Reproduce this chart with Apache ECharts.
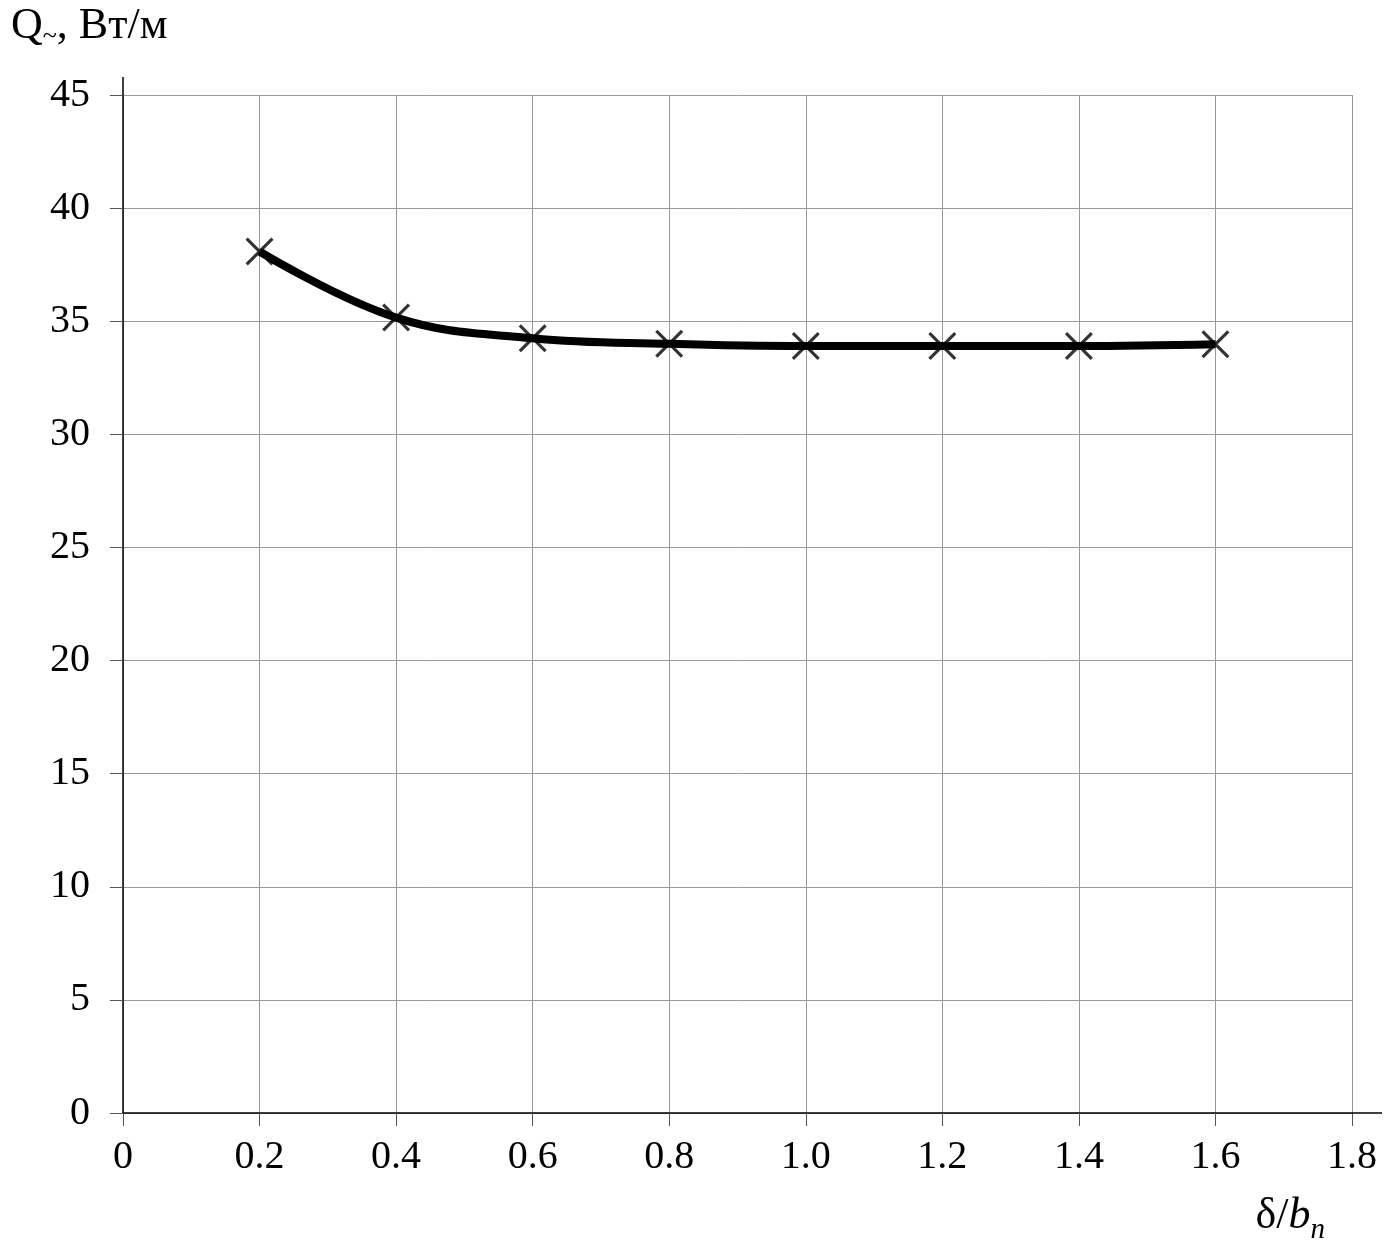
<!DOCTYPE html>
<html><head><meta charset="utf-8">
<script src="https://cdn.jsdelivr.net/npm/echarts@6/dist/echarts.min.js"></script>
<style>html,body{margin:0;padding:0;background:#fff}#c{width:1386px;height:1256px}</style>
</head><body><div id="c"></div>
<script>
const xValues = [0.2, 0.4, 0.6, 0.8, 1.0, 1.2, 1.4, 1.6];
const qValues = [38.08, 35.16, 34.25, 34.0, 33.9, 33.9, 33.9, 33.98];

const data = xValues.map((x, i) => [x, qValues[i]]);
const FONT = 'Liberation Serif';
const chart = echarts.init(document.getElementById('c'), null, {renderer: 'canvas'});
const xShape = 'path://M0,8L8,0L50,42L92,0L100,8L58,50L100,92L92,100L50,58L8,100L0,92L42,50Z';

chart.setOption({
  backgroundColor: '#fff',
  animation: false,
  grid: {left: 123, right: 34, top: 95, bottom: 143, containLabel: false, outerBoundsMode: 'none'},
  xAxis: {
    type: 'value', min: 0, max: 1.8, interval: 0.2,
    name: '{d|δ/}{b|b}{n|n}', nameLocation: 'end', nameGap: 0,
    nameTextStyle: {
      align: 'right', verticalAlign: 'top', padding: [75, 27, 0, 0],
      rich: {
        d: {fontFamily: FONT, fontSize: 44, fontWeight: 'normal', color: '#000'},
        b: {fontFamily: FONT, fontSize: 44, fontStyle: 'italic', fontWeight: 'normal', color: '#000'},
        n: {fontFamily: FONT, fontSize: 29, fontStyle: 'italic', fontWeight: 'normal', color: '#000', padding: [28, 0, 0, 0]}
      }
    },
    axisLine: {show: true, lineStyle: {color: '#000', width: 1.5}},
    axisTick: {show: true, inside: false, length: 13, lineStyle: {color: '#555', width: 1}},
    axisLabel: {margin: 24, fontFamily: FONT, fontSize: 40, color: '#000',
      formatter: v => (v === 0 ? '0' : v.toFixed(1))},
    splitLine: {show: true, lineStyle: {color: '#999', width: 1}}
  },
  yAxis: {
    type: 'value', min: 0, max: 45, interval: 5,
    name: '{q|Q}{s|~}{t|, Вт/м}', nameLocation: 'end', nameGap: 0,
    nameTextStyle: {
      align: 'left', verticalAlign: 'bottom', padding: [0, 0, 46, -112],
      rich: {
        q: {fontFamily: FONT, fontSize: 44, fontWeight: 'normal', color: '#000'},
        s: {fontFamily: FONT, fontSize: 26, fontWeight: 'normal', color: '#000', padding: [20, 0, 0, 0]},
        t: {fontFamily: FONT, fontSize: 44, fontWeight: 'normal', color: '#000'}
      }
    },
    axisLine: {show: true, lineStyle: {color: '#000', width: 1.5}},
    axisTick: {show: true, inside: false, length: 13, lineStyle: {color: '#555', width: 1}},
    axisLabel: {margin: 33, fontFamily: FONT, fontSize: 40, color: '#000'},
    splitLine: {show: true, lineStyle: {color: '#999', width: 1}}
  },
  series: [{
    type: 'line', data: data, smooth: 0.4,
    lineStyle: {color: '#000', width: 8},
    symbol: 'none', z: 3
  }, {
    type: 'scatter', data: data, symbol: xShape, symbolSize: 28,
    itemStyle: {color: '#000'}, z: 4
  }]
});

// extend axis lines beyond the plot (decoration derived from axis scale)
const p00 = chart.convertToPixel({gridIndex: 0}, [0, 0]);
const pTop = chart.convertToPixel({gridIndex: 0}, [0, 45]);
const pRight = chart.convertToPixel({gridIndex: 0}, [1.8, 0]);
chart.setOption({
  graphic: [
    {type: 'line', shape: {x1: p00[0], y1: pTop[1], x2: p00[0], y2: pTop[1] - 18}, style: {stroke: '#000', lineWidth: 1.5}, z: 10},
    {type: 'line', shape: {x1: pRight[0], y1: p00[1], x2: pRight[0] + 30, y2: p00[1]}, style: {stroke: '#000', lineWidth: 1.5}, z: 10}
  ]
});
</script>
</body></html>
